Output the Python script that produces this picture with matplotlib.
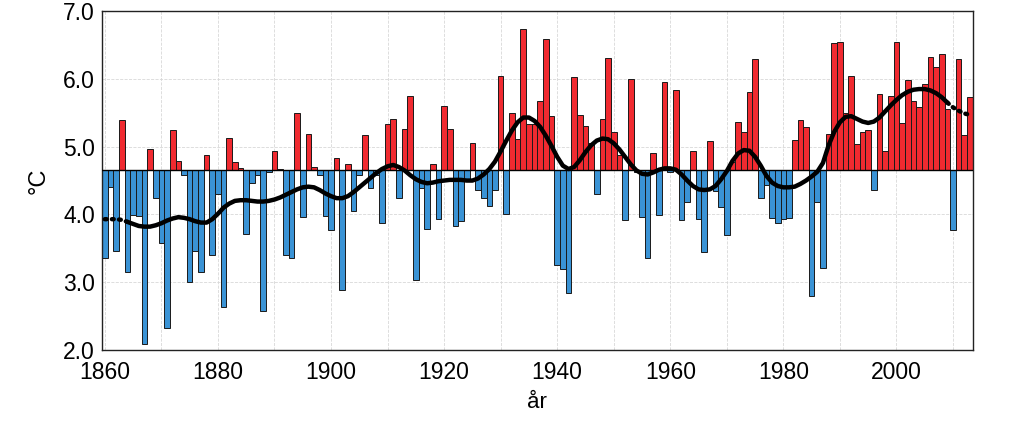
import numpy as np
import matplotlib
matplotlib.use("Agg")
import matplotlib.pyplot as plt

# annual mean temperature, 1860-2013
years = list(range(1860, 2014))
temps = [
    3.36, 4.40, 3.46, 5.40, 3.15, 3.99, 3.97, 2.09, 4.96, 4.25,  # 1860
    3.58, 2.32, 5.24, 4.79, 4.58, 3.01, 3.46, 3.15, 4.88, 3.40,  # 1870
    4.30, 2.63, 5.13, 4.77, 4.68, 3.71, 4.46, 4.58, 2.58, 4.62,  # 1880
    4.94, 4.67, 3.40, 3.36, 5.49, 3.96, 5.18, 4.70, 4.58, 3.98,  # 1890
    3.77, 4.83, 2.88, 4.75, 4.05, 4.58, 5.17, 4.39, 4.58, 3.87,  # 1900
    5.34, 5.41, 4.24, 5.26, 5.75, 3.04, 4.39, 3.78, 4.75, 3.93,  # 1910
    5.60, 5.26, 3.83, 3.90, 4.52, 5.05, 4.36, 4.25, 4.13, 4.36,  # 1920
    6.05, 4.00, 5.49, 5.11, 6.74, 5.33, 5.34, 5.67, 6.59, 5.45,  # 1930
    3.26, 3.20, 2.84, 6.03, 5.47, 5.30, 5.05, 4.30, 5.41, 6.31,  # 1940
    5.22, 4.87, 3.92, 6.00, 4.62, 3.96, 3.36, 4.91, 3.99, 5.95,  # 1950
    4.63, 5.83, 3.92, 4.18, 4.93, 3.93, 3.44, 5.09, 4.35, 4.11,  # 1960
    3.70, 4.77, 5.37, 5.21, 5.81, 6.30, 4.24, 4.43, 3.95, 3.88,  # 1970
    3.93, 3.95, 5.10, 5.39, 5.29, 2.79, 4.18, 3.21, 5.18, 6.53,  # 1980
    6.55, 5.49, 6.04, 5.04, 5.22, 5.25, 4.36, 5.78, 4.94, 5.75,  # 1990
    6.54, 5.35, 5.99, 5.67, 5.58, 5.93, 6.32, 6.18, 6.37, 5.55,  # 2000
    3.77, 6.29, 5.17, 5.74,                                      # 2010
]

# smoothed curve
smooth = [
    3.93, 3.93, 3.93, 3.92, 3.89, 3.86, 3.83, 3.82, 3.82, 3.84,
    3.87, 3.91, 3.94, 3.96, 3.95, 3.93, 3.90, 3.88, 3.88, 3.93,
    4.01, 4.10, 4.16, 4.20, 4.21, 4.21, 4.20, 4.19, 4.19, 4.20,
    4.22, 4.25, 4.29, 4.33, 4.37, 4.40, 4.41, 4.40, 4.36, 4.31,
    4.27, 4.24, 4.24, 4.27, 4.33, 4.40, 4.47, 4.54, 4.61, 4.67,
    4.71, 4.73, 4.70, 4.65, 4.58, 4.52, 4.48, 4.46, 4.47, 4.49,
    4.50, 4.51, 4.51, 4.51, 4.50, 4.50, 4.53, 4.59, 4.67, 4.78,
    4.93, 5.09, 5.24, 5.36, 5.43, 5.43, 5.38, 5.29, 5.16, 5.01,
    4.85, 4.72, 4.67, 4.70, 4.80, 4.92, 5.02, 5.09, 5.12, 5.11,
    5.05, 4.96, 4.85, 4.74, 4.65, 4.60, 4.59, 4.62, 4.66, 4.68,
    4.68, 4.66, 4.59, 4.50, 4.42, 4.37, 4.36, 4.37, 4.42, 4.52,
    4.64, 4.79, 4.90, 4.95, 4.94, 4.85, 4.72, 4.57, 4.47, 4.42,
    4.40, 4.40, 4.41, 4.45, 4.50, 4.56, 4.63, 4.76, 5.02, 5.22,
    5.36, 5.44, 5.45, 5.41, 5.37, 5.35, 5.37, 5.43, 5.52, 5.61,
    5.69, 5.76, 5.81, 5.84, 5.85, 5.85, 5.83, 5.79, 5.73, 5.65,
    5.58, 5.53, 5.49, 5.47,
]

base = 4.66

plt.rcParams['font.family'] = ['Liberation Sans', 'DejaVu Sans']

fig = plt.figure(figsize=(10.24, 4.45), dpi=100)
ax = fig.add_axes([0.0996, 0.2135, 0.8504, 0.7615])

yr = np.array(years)
t = np.array(temps)
heights = t - base
colors = np.where(heights >= 0, '#f02a30', '#3a93d5')
ax.bar(yr, heights, width=1.0, bottom=base, color=colors,
       edgecolor='#1a1a1a', linewidth=0.7, zorder=2)
ax.axhline(base, color='black', linewidth=1.0, zorder=3)

# solid middle, dotted ends
sm = np.array(smooth)
ax.plot(yr[4:150], sm[4:150], color='black', linewidth=3.2,
        solid_capstyle='round', zorder=4)
ax.plot(yr[:5], sm[:5], color='black', linewidth=3.2, linestyle=(0, (0.4, 1.2)),
        dash_capstyle='round', zorder=4)
ax.plot(yr[149:], sm[149:], color='black', linewidth=3.2, linestyle=(0, (0.4, 1.2)),
        dash_capstyle='round', zorder=4)

ax.set_xlim(1859.5, 2013.5)
ax.set_ylim(2.0, 7.0)
ax.set_xticks(range(1860, 2011, 20))
ax.set_xticks(range(1870, 2011, 20), minor=True)
ax.set_yticks(np.arange(2.0, 7.01, 1.0))
ax.set_yticklabels(['%.1f' % v for v in np.arange(2.0, 7.01, 1.0)])
ax.tick_params(axis='both', which='both', length=0, labelsize=16.5)
ax.tick_params(axis='x', pad=8)
ax.tick_params(axis='y', pad=5)
ax.grid(True, which='both', color='#d8d8d8', linestyle='--', linewidth=0.6, zorder=0)
ax.set_axisbelow(True)
for s in ax.spines.values():
    s.set_linewidth(1.0)
    s.set_color('#222222')

ax.set_xlabel('år', fontsize=16, labelpad=6)
ax.set_ylabel('°C', fontsize=17, labelpad=10)

fig.savefig('out.png', dpi=100)
